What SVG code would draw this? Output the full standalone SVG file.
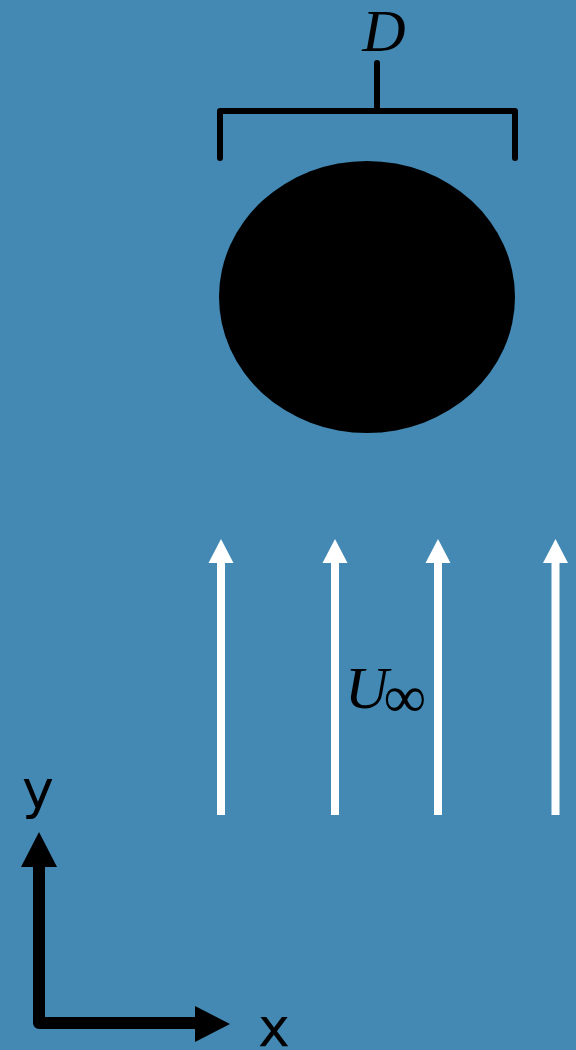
<svg xmlns="http://www.w3.org/2000/svg" width="576" height="1050" viewBox="0 0 576 1050">
<style>
.bk{stroke:#000;fill:none;stroke-width:6;stroke-linecap:round;stroke-linejoin:round}
.math{font-family:"Liberation Serif","DejaVu Serif",serif;font-size:60px;fill:#000}
.ax{font-family:"DejaVu Sans",sans-serif;font-size:54px;fill:#000}
</style>
<rect width="576" height="1050" fill="#4389b4"/>
<g id="cylinder"><ellipse cx="367" cy="297" rx="148" ry="136" fill="#000"/></g>
<g id="diameter">
<path class="bk" d="M220,158 L220,111 L515,111 L515,158" stroke-linecap="butt"/>
<path class="bk" d="M377,111 L377,63"/>
<text class="math" x="384" y="51" text-anchor="middle" font-style="italic">D</text>
</g>
<g id="flow">
<g fill="#fff">
<rect x="217" y="562" width="8" height="253"/><path d="M208.5,563 L221,539 L233.5,563 Z"/>
<rect x="331" y="562" width="8" height="253"/><path d="M322.5,563 L335,539 L347.5,563 Z"/>
<rect x="434" y="562" width="8" height="253"/><path d="M425.5,563 L438,539 L450.5,563 Z"/>
<rect x="551.5" y="562" width="8" height="253"/><path d="M543,563 L555.5,539 L568,563 Z"/>
</g>
<text class="math" x="345" y="708" font-style="italic">U</text>
<text class="math" x="405" y="717" text-anchor="middle" font-size="54">∞</text>
</g>
<g id="axes">
<path d="M39,866 L39,1023 L196,1023" stroke="#000" stroke-width="12" fill="none" stroke-linejoin="round"/>
<path d="M21,867 L39,832 L57,867 Z" fill="#000"/>
<path d="M195,1006 L230,1024 L195,1042 Z" fill="#000"/>
<text class="ax" x="38" y="808" text-anchor="middle">y</text>
<text class="ax" x="274" y="1046" text-anchor="middle">x</text>
</g>
</svg>
